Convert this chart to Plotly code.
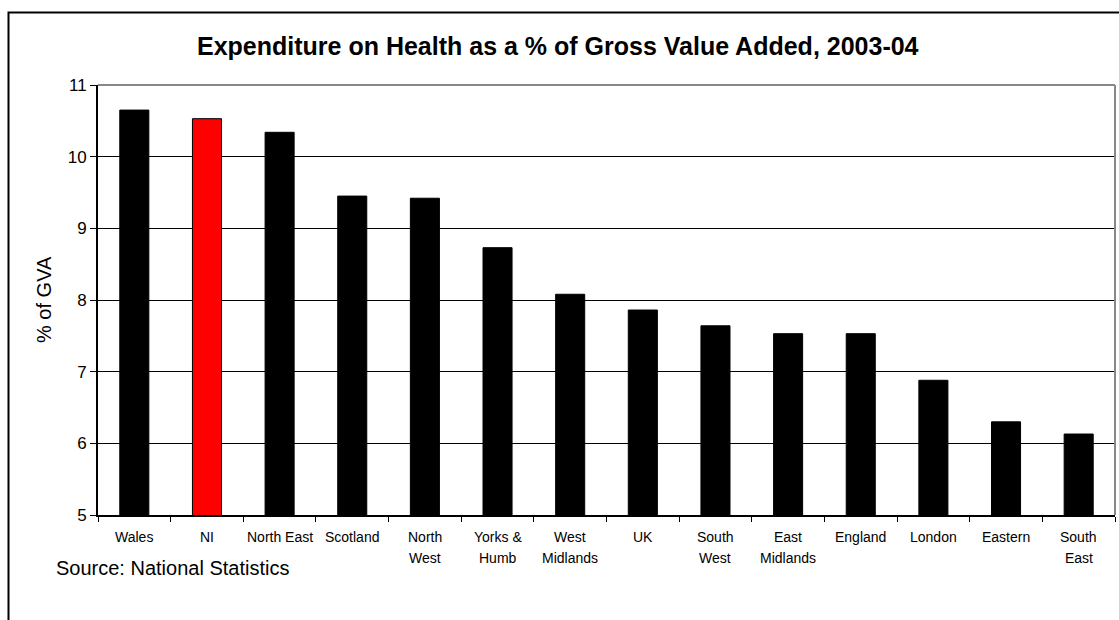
import plotly.graph_objects as go

# Health expenditure as a share of GVA by region, 2003-04
regions = ["Wales", "NI", "North East", "Scotland", "North West", "Yorks & Humb",
           "West Midlands", "UK", "South West", "East Midlands", "England",
           "London", "Eastern", "South East"]
label_line1 = ["Wales", "NI", "North East", "Scotland", "North", "Yorks &",
               "West", "UK", "South", "East", "England", "London", "Eastern", "South"]
label_line2 = ["", "", "", "", "West", "Humb", "Midlands", "", "West", "Midlands",
               "", "", "", "East"]
pct_gva = [10.65, 10.53, 10.34, 9.45, 9.42, 8.73, 8.08, 7.86, 7.64, 7.53, 7.53,
           6.88, 6.30, 6.13]
y_ticks = [5, 6, 7, 8, 9, 10, 11]

W, H = 1119, 620
L, R, T, B = 98, 4, 85, 105
pw, ph = W - L - R, H - T - B


def px_x(p):
    return (p - L) / pw


def px_y(p):
    return (H - B - p) / ph


colors = ["#ff0000" if r == "NI" else "#000000" for r in regions]

fig = go.Figure(go.Bar(
    x=regions, y=pct_gva,
    marker=dict(color=colors, line=dict(color="#000000", width=1)),
    base=0,
))

font = "Arial, Liberation Sans, sans-serif"

annotations = [
    dict(text="<b>Expenditure on Health as a % of Gross Value Added, 2003-04</b>",
         xref="paper", yref="paper", x=px_x(558), y=px_y(46),
         xanchor="center", yanchor="middle", showarrow=False,
         font=dict(family=font, size=25, color="#000000")),
    dict(text="% of GVA", xref="paper", yref="paper", x=px_x(44), y=0.5,
         textangle=-90, xanchor="center", yanchor="middle", showarrow=False,
         font=dict(family=font, size=20, color="#000000")),
    dict(text="Source: National Statistics", xref="paper", yref="paper",
         x=px_x(54), y=px_y(568), xanchor="left", yanchor="middle",
         showarrow=False, font=dict(family=font, size=20, color="#000000")),
]
for cat, l1, l2 in zip(regions, label_line1, label_line2):
    for txt, ypix in ((l1, 537), (l2, 558)):
        if txt:
            annotations.append(dict(
                text=txt, x=cat, xref="x", yref="paper", y=px_y(ypix),
                xanchor="center", yanchor="middle", showarrow=False,
                font=dict(family=font, size=14, color="#000000")))

shapes = [
    # outer frame
    dict(type="rect", xref="paper", yref="paper",
         x0=px_x(8.5), x1=px_x(1130), y0=px_y(12.5), y1=px_y(640),
         line=dict(color="#000000", width=2), layer="below"),
    # plot area border: top and right in grey
    dict(type="line", xref="paper", yref="paper", x0=0, x1=1, y0=1, y1=1,
         line=dict(color="#888888", width=2), layer="above"),
    dict(type="line", xref="paper", yref="paper", x0=1, x1=1, y0=0, y1=1,
         line=dict(color="#888888", width=2), layer="above"),
]

fig.update_layout(
    width=W, height=H,
    margin=dict(l=L, r=R, t=T, b=B),
    paper_bgcolor="#ffffff", plot_bgcolor="#ffffff",
    bargap=0.6, showlegend=False,
    annotations=annotations, shapes=shapes,
    font=dict(family=font, color="#000000"),
)
fig.update_xaxes(
    type="category", showticklabels=False, tickson="boundaries",
    ticks="outside", ticklen=5, tickcolor="#000000", tickwidth=1,
    showline=True, linecolor="#000000", linewidth=2, showgrid=False,
    zeroline=False,
)
fig.update_yaxes(
    range=[5, 11], tickvals=y_ticks, ticks="outside", ticklen=6,
    tickcolor="#000000", tickwidth=1, showline=True, linecolor="#000000",
    linewidth=2, showgrid=True, gridcolor="#000000", gridwidth=1,
    zeroline=False, tickfont=dict(family=font, size=17, color="#000000"),
)

fig.write_html("out.html")
